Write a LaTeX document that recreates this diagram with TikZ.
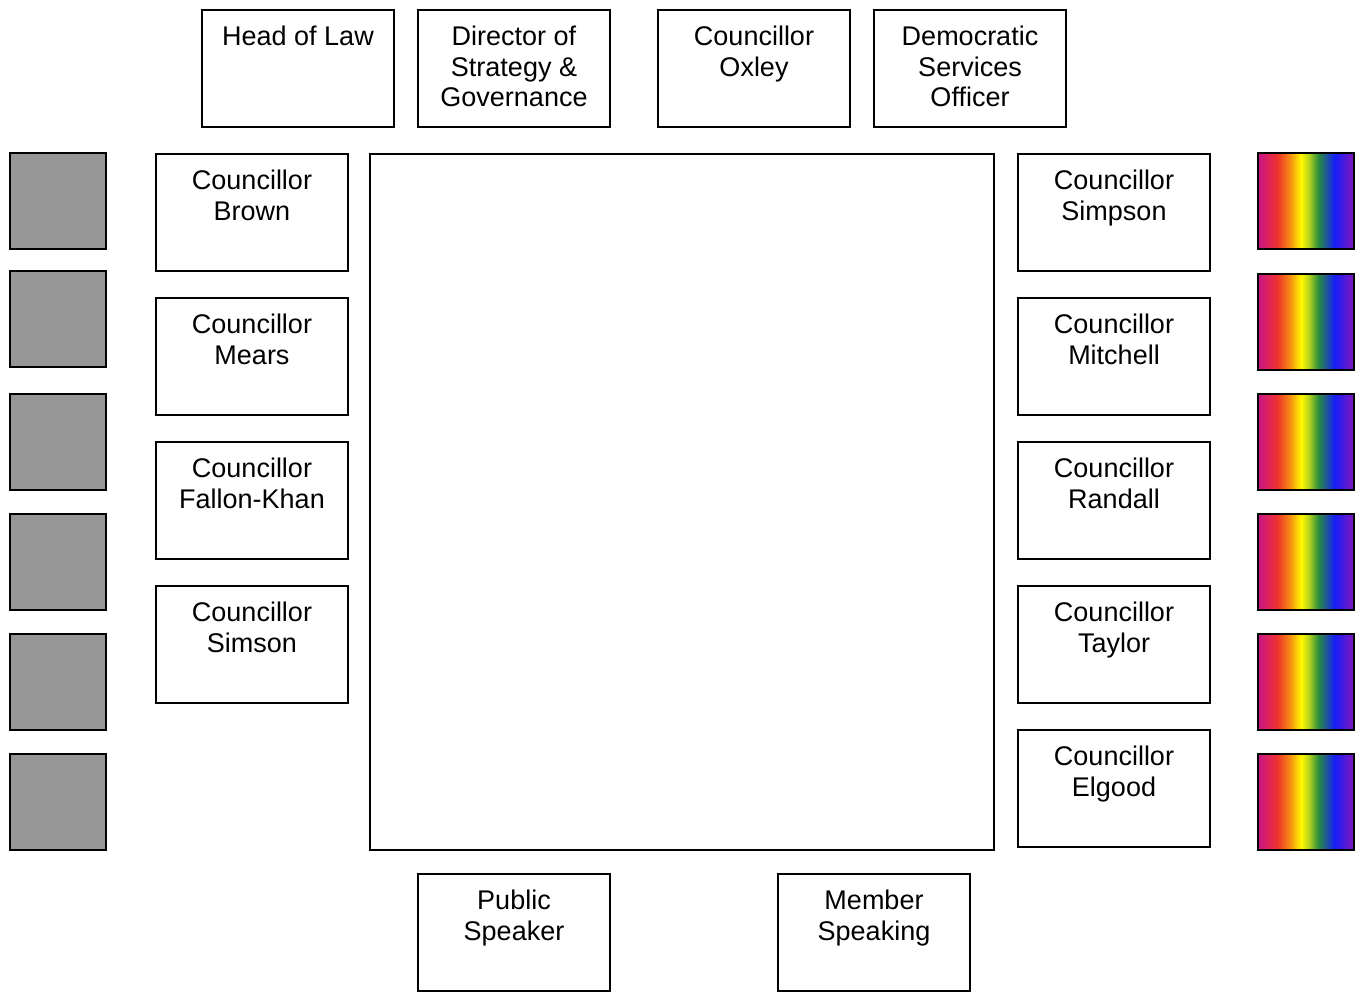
\documentclass[tikz,border=0pt]{standalone}
\usepackage{fontspec}
\setmainfont{Liberation Sans}
\usetikzlibrary{positioning}

\definecolor{seatgray}{RGB}{150,150,150}
\definecolor{rbmagenta}{RGB}{200,20,140}
\definecolor{rbred}{RGB}{238,50,45}
\definecolor{rborange}{RGB}{248,140,20}
\definecolor{rbyellow}{RGB}{255,250,0}
\definecolor{rblime}{RGB}{180,210,30}
\definecolor{rbgreen}{RGB}{40,140,60}
\definecolor{rbblue}{RGB}{20,30,250}
\definecolor{rbpurple}{RGB}{135,20,185}

% the middle 25bp--75bp is what covers the path
\pgfdeclarehorizontalshading{rainbow}{100bp}{color(0bp)=(rbmagenta); color(25bp)=(rbmagenta); color(35bp)=(rbred); color(41.5bp)=(rborange); color(47.5bp)=(rbyellow); color(51.5bp)=(rblime); color(56.5bp)=(rbgreen); color(65bp)=(rbblue); color(75bp)=(rbpurple); color(100bp)=(rbpurple)}

\begin{document}
\begin{tikzpicture}[x=1pt, y=-1pt,
					every node/.style={font=\fontsize{27}{30.5}\selectfont},
					person/.style={draw, line width=2pt, minimum width=192pt, minimum height=117pt, inner sep=0pt},
					seat/.style={draw, line width=2pt, fill=seatgray, minimum size=96pt, inner sep=0pt},
					flagseat/.style={draw, line width=2pt, shading=rainbow, minimum size=96pt, inner sep=0pt},
					who/.style={anchor=north, align=center, inner sep=0pt, yshift=-17pt}]
					\useasboundingbox (0,0) rectangle (1363,992);
					% top row
					\node[person] (law) at (298,68.5) {};
					\node[who] at (law.north) {Head of Law};
					\node[person] (director) at (514,68.5) {};
					\node[who] at (director.north) {Director of\\Strategy \&\\Governance};
					\node[person] (oxley) at (754,68.5) {};
					\node[who] at (oxley.north) {Councillor\\Oxley};
					\node[person] (democratic) at (970,68.5) {};
					\node[who] at (democratic.north) {Democratic\\Services\\Officer};
					% table
					\node[draw, line width=2pt, minimum width=624pt, minimum height=696pt] (table) at (682,502) {};
					% left side
					\node[person] (brown) at (252,212.5) {};
					\node[who] at (brown.north) {Councillor\\Brown};
					\node[person] (mears) at (252,356.5) {};
					\node[who] at (mears.north) {Councillor\\Mears};
					\node[person] (fallonkhan) at (252,500.5) {};
					\node[who] at (fallonkhan.north) {Councillor\\Fallon-Khan};
					\node[person] (simson) at (252,644.5) {};
					\node[who] at (simson.north) {Councillor\\Simson};
					% right side
					\node[person] (simpson) at (1114,212.5) {};
					\node[who] at (simpson.north) {Councillor\\Simpson};
					\node[person] (mitchell) at (1114,356.5) {};
					\node[who] at (mitchell.north) {Councillor\\Mitchell};
					\node[person] (randall) at (1114,500.5) {};
					\node[who] at (randall.north) {Councillor\\Randall};
					\node[person] (taylor) at (1114,644.5) {};
					\node[who] at (taylor.north) {Councillor\\Taylor};
					\node[person] (elgood) at (1114,788.5) {};
					\node[who] at (elgood.north) {Councillor\\Elgood};
					% bottom
					\node[person] (public) at (514,932.5) {};
					\node[who] at (public.north) {Public\\Speaker};
					\node[person] (member) at (874,932.5) {};
					\node[who] at (member.north) {Member\\Speaking};
					% seats
					\foreach \y [count=\i] in {201.5,319,442,562,682,802}
						\node[seat] (grey\i) at (58,\y) {};
					\foreach \y [count=\i] in {201.5,322,442,562,682,802}
						\node[flagseat] (flag\i) at (1306,\y) {};
				\end{tikzpicture}
\end{document}
